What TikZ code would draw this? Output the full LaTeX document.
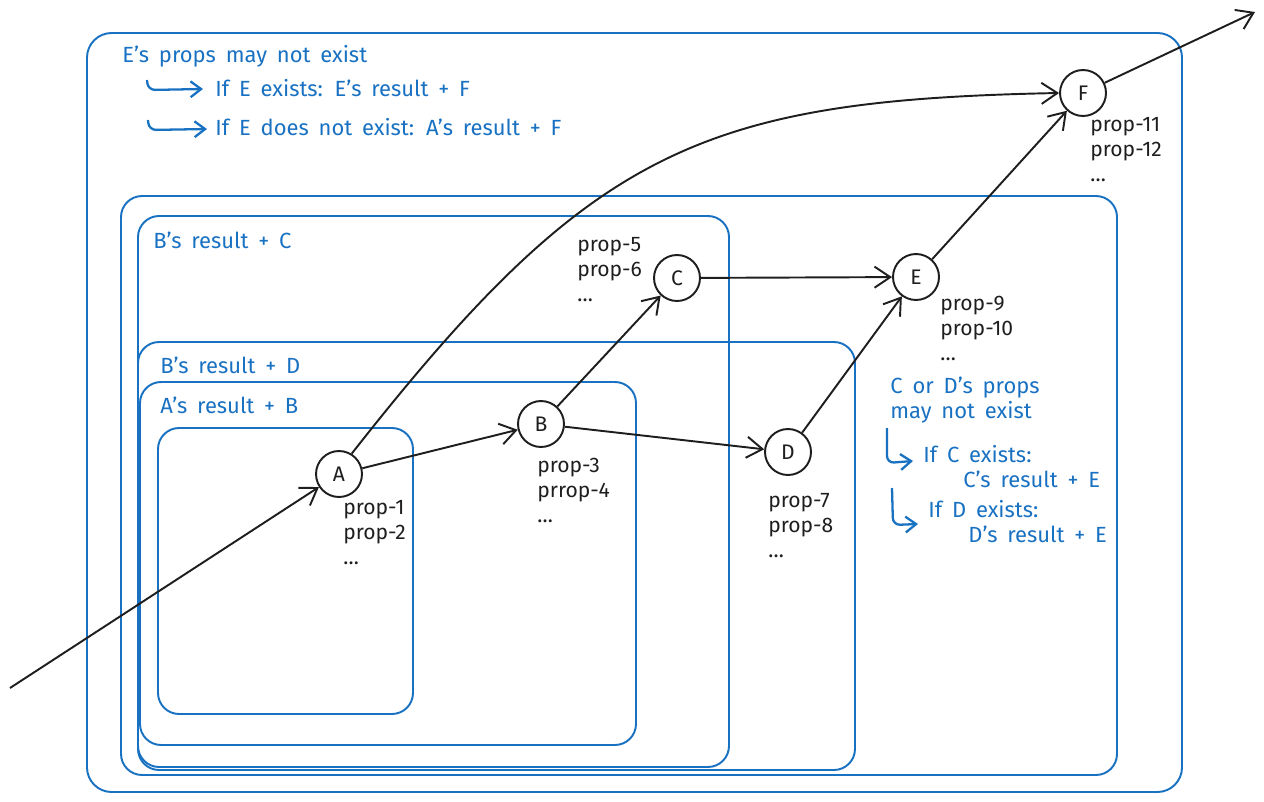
\documentclass[tikz,border=0pt]{standalone}
\usepackage{fontspec}
\setmainfont{Fira Sans}
\usetikzlibrary {arrows.meta}
\definecolor{pen}{HTML}{1E1E1E}
\definecolor{ink}{HTML}{1971C2}
\newcommand{\notefont}{\fontsize{12.5}{15}\selectfont\spaceskip=5.6pt\relax}
\tikzset{
  group/.style={draw=ink, line width=1.1pt, rounded corners=12pt},
  vertex/.style={circle, draw=pen, line width=1.1pt, minimum size=0.92cm, inner sep=0pt, text=pen, font=\fontsize{12}{14}\selectfont},
  props/.style={align=left, anchor=north west, inner sep=0pt, text=pen, font=\fontsize{12}{14.2}\selectfont},
  note/.style={anchor=base west, inner sep=0pt, text=ink, font=\notefont},
  link/.style={draw=pen, line width=1.1pt, -{Straight Barb[length=9pt,width=12pt]}},
  hint/.style={draw=ink, line width=1.3pt, rounded corners=4pt, -{Straight Barb[length=6pt,width=9pt]}}
}
\begin{document}
\begin{tikzpicture}[x=0.02cm,y=-0.02cm]
\useasboundingbox (0,0) rectangle (1264,801);

\draw[group, rounded corners=14pt] (87,33) rectangle (1182,792);
\draw[group] (121,196) rectangle (1117,775);
\draw[group] (138,216) rectangle (729,767);
\draw[group] (138,342) rectangle (855,770);
\draw[group] (140,382) rectangle (636,745);
\draw[group] (158,428) rectangle (413,714);

\node[note] (lblE) at (122,62) {E's props may not exist};
\node[note] (ifE) at (215,96) {If E exists: E's result + F};
\node[note] (ifnoE) at (215,135) {If E does not exist: A's result + F};
\draw[hint] (147,80) -- (148,90) -- (203,89);
\draw[hint] (148,120) -- (149,130) -- (207,129);

\node[note] (lblBC) at (153,248) {B's result + C};
\node[note] (lblBD) at (160,373) {B's result + D};
\node[note] (lblAB) at (160,413) {A's result + B};

\node[note] (lblCD) at (890,393) {C or D's props};
\node[note] (lblCD2) at (890,418) {may not exist};
\node[note] (ifC) at (923,462) {If C exists:};
\node[note] (resC) at (963,487) {C's result + E};
\node[note] (ifD) at (928,517) {If D exists:};
\node[note] (resD) at (968,542) {D's result + E};
\draw[hint] (887,428) -- (887,463) -- (913,461);
\draw[hint] (892,488) -- (893,525) -- (918,524);

\node[vertex] (A) at (339,474) {A};
\node[vertex] (B) at (541,424) {B};
\node[vertex] (C) at (677,278) {C};
\node[vertex] (D) at (788,452) {D};
\node[vertex] (E) at (916,277) {E};
\node[vertex] (F) at (1083,93) {F};

\node[props] (pA) at (343,500) {prop-1\\prop-2\\\dots};
\node[props] (pB) at (537,458) {prop-3\\prrop-4\\\dots};
\node[props] (pC) at (577,237) {prop-5\\prop-6\\\dots};
\node[props] (pD) at (768,493) {prop-7\\prop-8\\\dots};
\node[props] (pE) at (940,296) {prop-9\\prop-10\\\dots};
\node[props] (pF) at (1090,117) {prop-11\\prop-12\\\dots};

\coordinate (in) at (10,688);
\coordinate (out) at (1255,12);

\draw[link] (in) -- (A);
\draw[link] (A) -- (B);
\draw[link] (B) -- (C);
\draw[link] (B) -- (D);
\draw[link] (C) -- (E);
\draw[link] (D) -- (E);
\draw[link] (E) -- (F);
\draw[link] (F) -- (out);
\draw[link] (A.58) .. controls (590,150) and (700,100) .. (F.west);
\end{tikzpicture}
\end{document}
